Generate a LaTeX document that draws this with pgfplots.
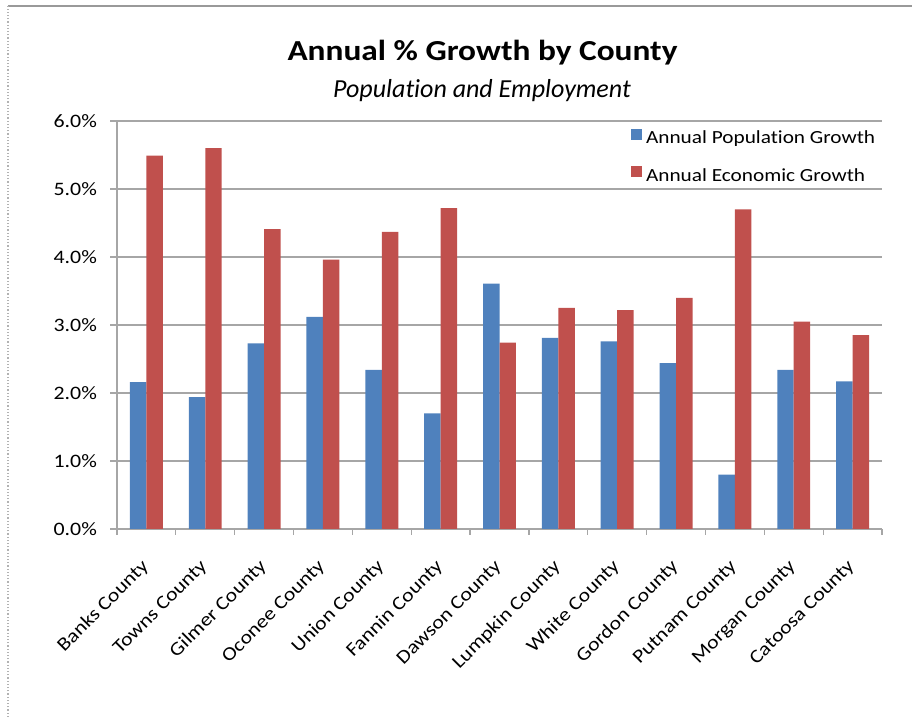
\documentclass[border=0pt]{standalone}
\usepackage{pgfplots}
\pgfplotsset{compat=1.18}
\usepackage{fontspec}
\setmainfont{Carlito}[FakeStretch=1.15, Ligatures=NoCommon]
\newfontfamily\subfont{Carlito}[Ligatures=NoCommon]
\definecolor{popblue}{HTML}{4F81BD}
\definecolor{ecored}{HTML}{C0504D}
\definecolor{gridgray}{HTML}{A6A6A6}

\pgfplotstableread{
x pop eco
0 2.16 5.49
1 1.94 5.60
2 2.73 4.41
3 3.12 3.96
4 2.34 4.37
5 1.70 4.72
6 3.61 2.74
7 2.81 3.25
8 2.76 3.22
9 2.44 3.40
10 0.80 4.70
11 2.34 3.05
12 2.17 2.85
}\datatable

\begin{document}
\begin{tikzpicture}
\useasboundingbox (0,0) rectangle (456pt,358.5pt);
\draw[gray!80, line width=0.6pt] (4pt,355.5pt) -- (456pt,355.5pt);
\draw[gray!60, densely dotted, line width=0.6pt] (4pt,0pt) -- (4pt,355.5pt);
\node[anchor=base, font=\fontsize{14.5}{17}\selectfont\bfseries, inner sep=0pt] at (241.25pt,328pt) {Annual \% Growth by County};
\node[anchor=base, font=\subfont\fontsize{13}{15}\selectfont\itshape, inner sep=0pt] at (241pt,309.6pt) {Population and Employment};
\begin{axis}[
  at={(58.5pt,94pt)}, anchor=south west,
  scale only axis, width=382.5pt, height=204pt,
  ymin=0, ymax=6, xmin=-0.5, xmax=12.5,
  ybar=0pt, bar width=0.28,
  ytick={0,1,2,3,4,5,6},
  yticklabels={0.0\%,1.0\%,2.0\%,3.0\%,4.0\%,5.0\%,6.0\%},
  xtick={0,...,12},
  xticklabels={Banks County,Towns County,Gilmer County,Oconee County,Union County,Fannin County,Dawson County,Lumpkin County,White County,Gordon County,Putnam County,Morgan County,Catoosa County},
  minor xtick={-0.5,0.5,...,12.5},
  major x tick style={draw=none},
  tick align=outside, major tick length=3.5pt, minor tick length=3pt,
  tick style={gridgray, line width=0.6pt},
  ymajorgrids, grid style={gridgray, line width=0.6pt},
  axis x line*=bottom, axis y line*=left,
  axis line style={gridgray, line width=0.6pt, -},
  yticklabel style={font=\fontsize{9.5}{11}\selectfont, xshift=-3pt},
  xticklabel style={font=\fontsize{9.5}{11}\selectfont, xshift=-3.2pt, yshift=-10.9pt, rotate=45, anchor=north east, inner sep=0pt},
  legend style={at={(0.672,0.985)}, anchor=north west, draw=none, fill=none,
    font=\fontsize{9.25}{11}\selectfont, row sep=7pt, inner sep=0pt, outer sep=0pt,
    cells={anchor=west}},
  legend cell align=left,
]
\addplot[fill=popblue, draw=none, legend image code/.code={\fill[popblue] (0pt,-0.3pt) rectangle (5.5pt,5.2pt);}] table[x=x, y=pop] {\datatable};
\addlegendentry{Annual Population Growth}
\addplot[fill=ecored, draw=none, legend image code/.code={\fill[ecored] (0pt,-0.3pt) rectangle (5.5pt,5.2pt);}] table[x=x, y=eco] {\datatable};
\addlegendentry{Annual Economic Growth}
\end{axis}
\end{tikzpicture}
\end{document}
